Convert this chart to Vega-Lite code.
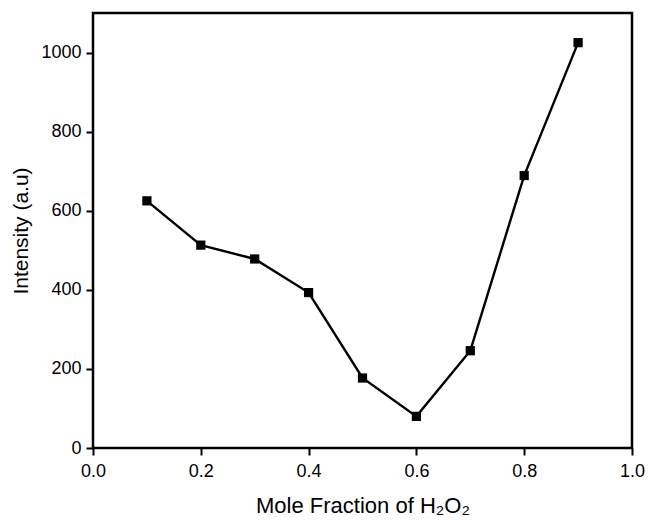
{
  "$schema": "https://vega.github.io/schema/vega-lite/v6.json",
  "width": 539,
  "height": 435,
  "autosize": {"type": "none"},
  "padding": {"left": 93, "top": 13, "right": 16, "bottom": 72},
  "background": "white",
  "config": {
    "view": {"stroke": "black", "strokeWidth": 2.5},
    "font": "Liberation Sans"
  },
  "data": {
    "values": [
      {"x": 0.1, "y": 625},
      {"x": 0.2, "y": 513},
      {"x": 0.3, "y": 478},
      {"x": 0.4, "y": 393},
      {"x": 0.5, "y": 177},
      {"x": 0.6, "y": 80},
      {"x": 0.7, "y": 246},
      {"x": 0.8, "y": 689},
      {"x": 0.9, "y": 1025}
    ]
  },
  "encoding": {
    "x": {
      "field": "x", "type": "quantitative",
      "scale": {"domain": [0, 1], "nice": false, "zero": false, "padding": 0},
      "axis": {
        "title": "Mole Fraction of H₂O₂",
        "values": [0, 0.2, 0.4, 0.6, 0.8, 1.0],
        "format": ".1f",
        "grid": false, "domain": false, "labelFlush": false,
        "tickColor": "black", "tickWidth": 2, "tickSize": 7,
        "labelColor": "black", "labelFontSize": 18, "labelPadding": 7,
        "titleColor": "black", "titleFontSize": 22, "titleFontWeight": "normal",
        "titlePadding": 15
      }
    },
    "y": {
      "field": "y", "type": "quantitative",
      "scale": {"domain": [0, 1100], "nice": false, "padding": 0},
      "axis": {
        "title": "Intensity (a.u)",
        "values": [0, 200, 400, 600, 800, 1000],
        "format": "d",
        "grid": false, "domain": false, "labelFlush": false,
        "tickColor": "black", "tickWidth": 2, "tickSize": 7,
        "labelColor": "black", "labelFontSize": 18, "labelPadding": 5,
        "titleColor": "black", "titleFontSize": 21, "titleFontWeight": "normal",
        "titlePadding": 9
      }
    }
  },
  "layer": [
    {"mark": {"type": "line", "color": "black", "strokeWidth": 2.4}},
    {"mark": {"type": "point", "shape": "square", "filled": true, "color": "black", "opacity": 1, "size": 85}}
  ]
}
